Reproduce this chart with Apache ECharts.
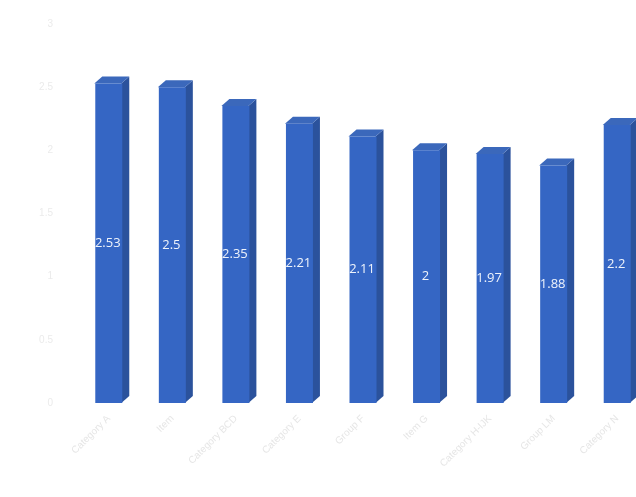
<!DOCTYPE html>
<html><head><meta charset="utf-8">
<script src="https://cdn.jsdelivr.net/npm/echarts@6/dist/echarts.min.js"></script>
<style>html,body{margin:0;padding:0;background:#fff}#c{width:636px;height:497px}</style>
</head><body><div id="c"></div>
<script>
const categories = ['Category A', 'Item', 'Category BCD', 'Category E', 'Group F', 'Item G', 'Category H-IJK', 'Group LM', 'Category N'];
const values = [2.53, 2.5, 2.35, 2.21, 2.11, 2, 1.97, 1.88, 2.2];
const yTicks = [0, 0.5, 1, 1.5, 2, 2.5, 3];

const chart = echarts.init(document.getElementById('c'));
const W = 27, DX = 8, DY = 7;
chart.setOption({
  animation: false,
  grid: { left: 77, top: 24, right: -13, bottom: 94, containLabel: false, outerBoundsMode: 'none' },
  xAxis: {
    type: 'category', data: categories,
    axisLine: { show: false }, axisTick: { show: false },
    axisLabel: { rotate: 45, color: '#e6e6e6', fontSize: 10, margin: 14, fontFamily: 'Liberation Sans' }
  },
  yAxis: {
    type: 'value', min: yTicks[0], max: yTicks[yTicks.length - 1], interval: 0.5,
    axisLine: { show: false }, axisTick: { show: false },
    splitLine: { show: false },
    axisLabel: { color: '#ebebeb', fontSize: 10, margin: 24, fontFamily: 'Liberation Sans' }
  },
  series: [
    {
      type: 'custom',
      z: 1,
      renderItem: function (params, api) {
        const top = api.coord([api.value(0), api.value(1)]);
        const base = api.coord([api.value(0), 0]);
        const x0 = top[0] - W / 2 - 1, x1 = x0 + W;
        return {
          type: 'group',
          children: [
            { type: 'polygon', shape: { points: [[x1, top[1]], [x1 + DX, top[1] - DY], [x1 + DX, base[1] - DY], [x1, base[1]]] },
              style: { fill: '#2b529c' } },
            { type: 'polygon', shape: { points: [[x0, top[1]], [x0 + DX, top[1] - DY], [x1 + DX, top[1] - DY], [x1, top[1]]] },
              style: { fill: '#3b68bb' } }
          ]
        };
      },
      encode: { x: 0, y: 1 },
      data: values.map((v, i) => [i, v])
    },
    {
      type: 'bar', data: values, barWidth: W, z: 2,
      itemStyle: { color: '#3566c4' },
      label: { show: true, position: 'inside', offset: [-1, 0], color: '#eef3fb', fontSize: 13, fontFamily: 'Open Sans' }
    }
  ]
});
</script></body></html>
